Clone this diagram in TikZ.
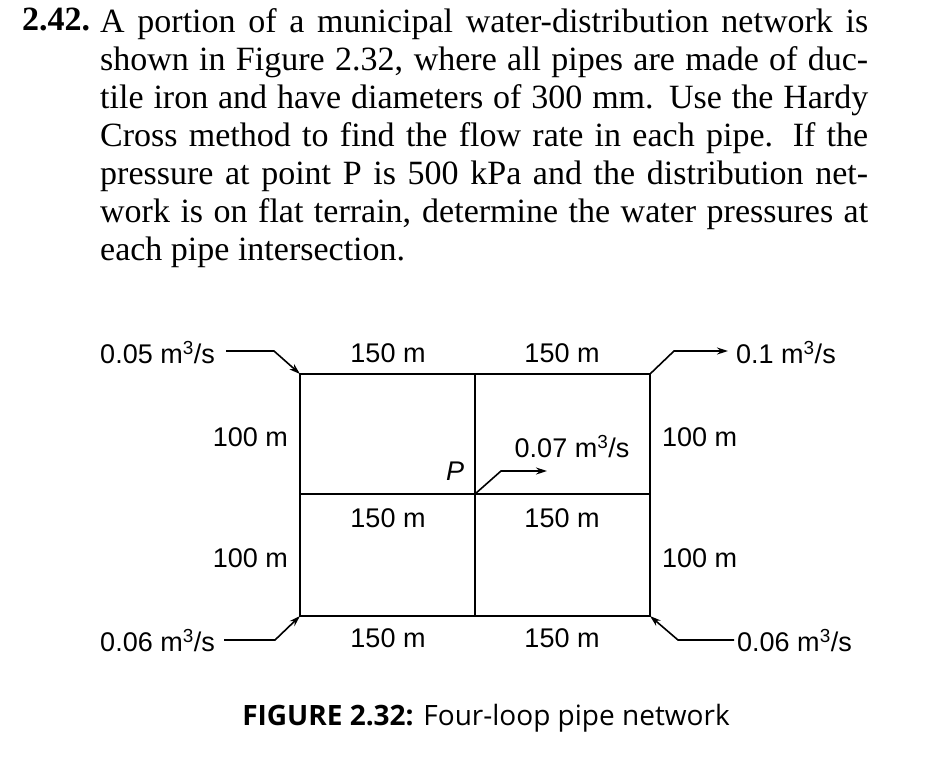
\documentclass[tikz,border=0pt]{standalone}
\usepackage{fontspec}
\setmainfont{Liberation Serif}
\setsansfont{Liberation Sans}
\newfontfamily\capfont{Open Sans}
\usetikzlibrary{arrows.meta}
\begin{document}
\begin{tikzpicture}[x=1pt,y=-1pt,
  pipe/.style={line width=1.6pt},
  flow/.style={line width=1.6pt,-{Stealth[length=11pt,width=7pt]}},
  lbl/.style={font=\sffamily\fontsize{27}{30}\selectfont,inner sep=1pt}]
\useasboundingbox (0,0) rectangle (936,758);
\node[anchor=north west,inner sep=0pt,font=\fontsize{34}{38}\selectfont] (num) at (22,8) {\bfseries 2.42.};
\node[anchor=north west,inner sep=0pt,text width=768pt,align=justify,font=\fontsize{34}{38}\selectfont] (txt) at (100,8)
 {A portion of a municipal water-distribution network is\linebreak
 shown in Figure 2.32, where all pipes are made of duc-\linebreak
 tile iron and have diameters of 300~mm. Use the Hardy\linebreak
 Cross method to find the flow rate in each pipe. If the\linebreak
 pressure at point P is 500~kPa and the distribution net-\linebreak
 work is on flat terrain, determine the water pressures at\linebreak
 each pipe intersection.};
% grid nodes
\coordinate (tl) at (300,374); \coordinate (tm) at (475,374); \coordinate (tr) at (650,374);
\coordinate (ml) at (300,494); \coordinate (mm) at (475,494); \coordinate (mr) at (650,494);
\coordinate (bl) at (300,616); \coordinate (bm) at (475,616); \coordinate (br) at (650,616);
\draw[pipe] (tl) -- (tr) -- (br) -- (bl) -- cycle;
\draw[pipe] (tm) -- (bm);
\draw[pipe] (ml) -- (mr);
% flows
\coordinate (a1) at (226,351); \coordinate (a2) at (274,351);
\draw[flow] (a1) -- (a2) -- (tl);
\coordinate (b1) at (674,351); \coordinate (b2) at (728,351);
\draw[flow] (tr) -- (b1) -- (b2);
\coordinate (c1) at (224,640); \coordinate (c2) at (275,640);
\draw[flow] (c1) -- (c2) -- (bl);
\coordinate (d1) at (734,640); \coordinate (d2) at (678,640);
\draw[flow] (d1) -- (d2) -- (br);
\coordinate (e1) at (501,471); \coordinate (e2) at (547,471);
\draw[flow] (mm) -- (e1) -- (e2);
% labels
\node[lbl,anchor=east] (q1) at (216,353) {0.05 m\textsuperscript{3}/s};
\node[lbl,anchor=west] (q2) at (735,353) {0.1 m\textsuperscript{3}/s};
\node[lbl,anchor=east] (q3) at (216,641) {0.06 m\textsuperscript{3}/s};
\node[lbl,anchor=west] (q4) at (736,641) {0.06 m\textsuperscript{3}/s};
\node[lbl] (q5) at (572,447) {0.07 m\textsuperscript{3}/s};
\node[lbl] (p) at (455,471) {\itshape P};
\node[lbl] (l1) at (388,353) {150 m};
\node[lbl] (l2) at (562,353) {150 m};
\node[lbl] (l3) at (388,518) {150 m};
\node[lbl] (l4) at (562,518) {150 m};
\node[lbl] (l5) at (388,638) {150 m};
\node[lbl] (l6) at (562,638) {150 m};
\node[lbl,anchor=east] (v1) at (289,437) {100 m};
\node[lbl,anchor=east] (v2) at (289,558) {100 m};
\node[lbl,anchor=west] (v3) at (661,437) {100 m};
\node[lbl,anchor=west] (v4) at (661,558) {100 m};
\node[font=\capfont\fontsize{28}{32}\selectfont] (cap) at (486,718) {\textbf{FIGURE 2.32:} Four-loop pipe network};
\end{tikzpicture}
\end{document}
